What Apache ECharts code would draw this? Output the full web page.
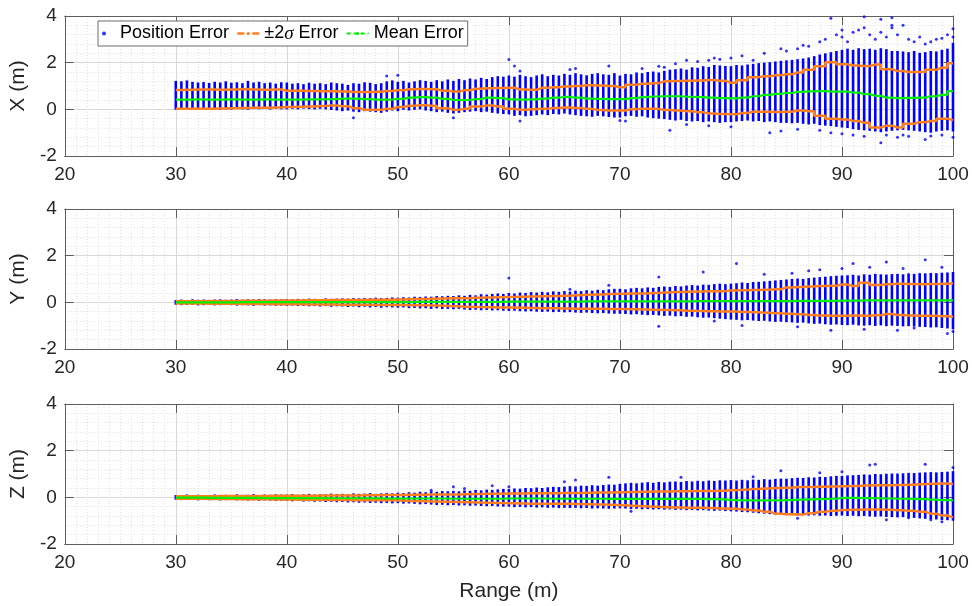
<!DOCTYPE html>
<html><head><meta charset="utf-8">
<script src="https://cdn.jsdelivr.net/npm/echarts@6/dist/echarts.min.js"></script>
<style>html,body{margin:0;padding:0;background:#fff}#c{width:972px;height:606px}</style>
</head><body><div id="c"></div>
<script>
// ---------- x grid ----------
const barStart = 30, barStep = 0.5, barCount = 141;   // data columns every 0.5 m
const lineStart = 30, lineStep = 1, lineCount = 71;   // statistics every 1 m
const xTickMin = 20, xTickMax = 100, xTickStep = 10;
const yTickMin = -2, yTickMax = 4, yTickStep = 2;
const panelNames = ['X (m)', 'Y (m)', 'Z (m)'];
const xLabel = 'Range (m)';
const legendNames = ['Position Error', '±2σ Error', 'Mean Error'];

// ---------- X panel ----------
const xHi = [1.22,1.20,1.24,1.18,1.15,1.17,1.13,1.18,1.15,1.20,
 1.14,1.16,1.12,1.22,1.15,1.18,1.12,1.15,1.10,1.16,
 1.15,1.10,1.12,1.08,1.14,1.10,1.12,1.08,1.15,1.12,
 1.10,1.05,1.12,1.10,1.16,1.14,1.08,1.12,1.20,1.24,
 1.18,1.22,1.15,1.20,1.25,1.22,1.18,1.25,1.20,1.28,
 1.22,1.30,1.25,1.32,1.28,1.35,1.30,1.38,1.42,1.40,
 1.45,1.40,1.48,1.42,1.38,1.45,1.50,1.42,1.48,1.45,
 1.52,1.48,1.55,1.50,1.46,1.52,1.55,1.50,1.48,1.55,
 1.45,1.52,1.50,1.58,1.55,1.60,1.62,1.58,1.65,1.70,
 1.72,1.75,1.70,1.80,1.78,1.85,1.82,1.90,1.88,1.86,
 1.85,1.90,1.88,1.92,1.95,1.98,2.00,2.02,2.05,2.08,
 2.10,2.12,2.15,2.18,2.22,2.28,2.35,2.40,2.45,2.50,
 2.55,2.60,2.55,2.62,2.58,2.60,2.55,2.62,2.58,2.50,
 2.50,2.48,2.45,2.50,2.42,2.45,2.50,2.48,2.55,2.60,
 2.85];
const xLo = [-0.02,0.00,-0.03,0.00,-0.02,0.01,-0.02,0.00,-0.03,0.00,
 -0.02,0.02,0.00,-0.02,0.01,0.00,0.02,-0.01,0.02,0.00,
 0.00,0.02,0.00,0.03,0.01,0.00,0.02,0.00,-0.03,-0.05,
 -0.08,-0.05,-0.10,-0.12,-0.08,-0.10,-0.12,-0.15,-0.10,-0.05,
 -0.08,-0.02,-0.05,-0.02,0.00,-0.05,-0.08,-0.12,-0.10,-0.15,
 -0.18,-0.15,-0.12,-0.10,-0.08,-0.12,-0.10,-0.15,-0.18,-0.20,
 -0.22,-0.28,-0.25,-0.30,-0.28,-0.25,-0.22,-0.25,-0.20,-0.22,
 -0.18,-0.22,-0.25,-0.28,-0.30,-0.32,-0.28,-0.30,-0.33,-0.35,
 -0.35,-0.30,-0.28,-0.32,-0.30,-0.35,-0.38,-0.40,-0.42,-0.45,
 -0.48,-0.45,-0.50,-0.52,-0.50,-0.55,-0.52,-0.55,-0.58,-0.55,
 -0.55,-0.52,-0.50,-0.48,-0.52,-0.50,-0.55,-0.52,-0.55,-0.58,
 -0.58,-0.60,-0.58,-0.62,-0.65,-0.62,-0.68,-0.70,-0.72,-0.75,
 -0.78,-0.80,-0.85,-0.88,-0.90,-0.92,-0.95,-0.98,-0.95,-0.92,
 -0.90,-0.88,-0.90,-0.92,-0.95,-0.98,-1.00,-0.95,-0.92,-0.90,
 -0.95];
const xUpper = [0.83,0.84,0.85,0.85,0.84,0.85,0.86,0.85,0.84,0.85,
 0.80,0.80,0.79,0.78,0.78,0.76,0.74,0.74,0.75,0.79,
 0.82,0.86,0.87,0.86,0.80,0.76,0.82,0.88,0.90,0.91,
 0.93,0.85,0.84,0.92,0.95,0.98,1.00,1.03,1.02,1.00,
 0.95,1.05,1.10,1.12,1.20,1.21,1.22,1.24,1.26,1.22,
 1.14,1.25,1.38,1.42,1.46,1.50,1.58,1.70,1.85,2.02,
 1.93,1.88,1.86,1.92,1.72,1.64,1.60,1.60,1.70,1.78,
 1.98];
const xMean = [0.42,0.42,0.43,0.42,0.42,0.43,0.42,0.42,0.43,0.42,
 0.42,0.42,0.43,0.43,0.44,0.46,0.46,0.44,0.42,0.42,
 0.45,0.50,0.52,0.50,0.45,0.40,0.40,0.44,0.50,0.48,
 0.43,0.42,0.43,0.46,0.50,0.53,0.50,0.46,0.45,0.44,
 0.44,0.48,0.52,0.55,0.56,0.56,0.54,0.52,0.50,0.48,
 0.47,0.50,0.56,0.62,0.66,0.70,0.75,0.77,0.78,0.76,
 0.76,0.72,0.65,0.58,0.50,0.48,0.49,0.50,0.56,0.62,
 0.78];
const xLower = [0.02,0.02,0.03,0.03,0.04,0.05,0.06,0.07,0.07,0.08,
 0.10,0.11,0.12,0.14,0.16,0.13,0.05,-0.02,-0.02,0.02,
 0.10,0.15,0.18,0.15,0.05,-0.02,0.02,0.12,0.16,0.12,
 0.02,-0.02,0.00,0.03,0.06,0.08,0.06,0.02,-0.03,-0.05,
 -0.05,0.00,0.03,0.02,-0.03,-0.05,-0.08,-0.12,-0.18,-0.20,
 -0.21,-0.16,-0.10,-0.10,-0.11,-0.10,-0.05,-0.08,-0.28,-0.40,
 -0.44,-0.50,-0.58,-0.78,-0.70,-0.78,-0.62,-0.55,-0.50,-0.40,
 -0.47];
const xOut = [[46,-0.36],[50,1.46],[49,1.43],[55,-0.36],[60,2.14],[60.5,1.86],[61,1.64],[61,-0.5],[65.5,1.71],[69,1.86],[66,1.75],[70.5,-0.5],[70,-0.48],
 [72,1.75],[73.5,1.85],[74,1.8],[75,1.95],[76,2.1],[77,2.05],[78,2.1],[78.5,2.2],[79,2.15],[80,2.2],[81,2.3],[82,2.1],[83,2.4],[84.5,2.6],[85,2.5],[86,2.6],[86.5,2.75],[87,2.7],[88,2.9],[88.5,3.0],[89,3.9],[89.5,3.2],[90,3.4],[90,3.1],[90.5,2.9],[91,3.3],[91.5,3.4],[92,3.97],[92,3.5],[92.5,3.2],[93,3.0],[93.5,3.86],[93.5,3.3],[94,3.1],[94.5,3.93],[94.5,3.6],[94.5,3.5],[95,3.2],[95.5,3.6],[96,3.0],[96.5,2.9],[97,3.1],[97.5,2.8],[98,2.9],[98.5,3.0],[99,3.05],[99.5,3.2],[100,3.45],[100,3.1],
 [74.5,-0.9],[76,-0.65],[78,-0.7],[80,-0.75],[83.5,-1.0],[84.5,-0.93],[86,-0.85],[88,-0.9],[89,-1.0],[90,-1.05],[91,-1.1],[92,-1.15],[93.5,-1.43],[94,-1.1],[95,-1.2],[95.5,-1.1],[96,-1.15],[97.5,-1.29],[98,-1.14],[99,-1.1],[100,-1.2]];

// ---------- Y panel ----------
const yHi = [0.10,0.12,0.10,0.13,0.11,0.12,0.10,0.12,0.13,0.11,
 0.12,0.14,0.11,0.13,0.12,0.14,0.13,0.12,0.14,0.13,
 0.14,0.13,0.15,0.14,0.16,0.15,0.14,0.17,0.15,0.16,
 0.17,0.16,0.18,0.17,0.19,0.18,0.20,0.18,0.19,0.21,
 0.20,0.22,0.21,0.24,0.23,0.25,0.24,0.27,0.26,0.28,
 0.27,0.30,0.28,0.32,0.30,0.35,0.33,0.36,0.38,0.36,
 0.40,0.38,0.42,0.40,0.44,0.42,0.45,0.43,0.47,0.45,
 0.48,0.46,0.50,0.48,0.52,0.50,0.54,0.52,0.56,0.58,
 0.58,0.56,0.60,0.62,0.60,0.64,0.62,0.66,0.68,0.66,
 0.70,0.68,0.72,0.74,0.72,0.76,0.75,0.78,0.80,0.78,
 0.80,0.82,0.85,0.83,0.87,0.88,0.90,0.92,0.94,0.96,
 0.98,1.00,1.02,1.00,1.04,1.06,1.08,1.10,1.12,1.14,
 1.15,1.16,1.18,1.15,1.20,1.18,1.22,1.20,1.19,1.21,
 1.22,1.20,1.24,1.22,1.25,1.24,1.26,1.25,1.27,1.28,
 1.30];
const yLo = [-0.10,-0.12,-0.11,-0.10,-0.13,-0.12,-0.11,-0.13,-0.12,-0.11,
 -0.12,-0.14,-0.12,-0.13,-0.15,-0.12,-0.14,-0.13,-0.15,-0.14,
 -0.15,-0.14,-0.16,-0.15,-0.17,-0.16,-0.18,-0.16,-0.19,-0.17,
 -0.18,-0.20,-0.18,-0.21,-0.19,-0.22,-0.20,-0.23,-0.21,-0.22,
 -0.23,-0.22,-0.25,-0.24,-0.26,-0.25,-0.28,-0.26,-0.29,-0.28,
 -0.30,-0.28,-0.31,-0.33,-0.32,-0.34,-0.33,-0.35,-0.34,-0.36,
 -0.37,-0.36,-0.38,-0.39,-0.38,-0.40,-0.41,-0.40,-0.42,-0.41,
 -0.43,-0.42,-0.44,-0.45,-0.44,-0.46,-0.47,-0.46,-0.48,-0.49,
 -0.49,-0.50,-0.52,-0.51,-0.53,-0.55,-0.54,-0.56,-0.58,-0.57,
 -0.60,-0.59,-0.62,-0.61,-0.64,-0.66,-0.65,-0.68,-0.70,-0.72,
 -0.74,-0.75,-0.77,-0.76,-0.78,-0.80,-0.79,-0.82,-0.84,-0.83,
 -0.85,-0.86,-0.88,-0.87,-0.90,-0.92,-0.91,-0.94,-0.96,-0.95,
 -0.97,-0.98,-0.96,-0.99,-1.00,-0.98,-1.01,-0.99,-1.02,-1.00,
 -1.01,-1.03,-1.02,-1.04,-1.05,-1.06,-1.08,-1.07,-1.10,-1.12,
 -1.15];
const yUpper = [0.05,0.05,0.05,0.06,0.06,0.06,0.07,0.07,0.07,0.08,
 0.08,0.08,0.09,0.09,0.10,0.10,0.10,0.11,0.11,0.11,
 0.12,0.13,0.14,0.15,0.16,0.17,0.18,0.20,0.21,0.22,
 0.23,0.24,0.25,0.26,0.27,0.28,0.30,0.32,0.34,0.36,
 0.37,0.38,0.38,0.40,0.42,0.44,0.45,0.46,0.47,0.48,
 0.51,0.52,0.53,0.54,0.56,0.64,0.66,0.68,0.70,0.71,
 0.76,0.70,0.84,0.74,0.78,0.80,0.79,0.78,0.79,0.80,
 0.82];
const yMean = [0.00,0.00,0.00,0.00,0.00,0.00,0.01,0.01,0.01,0.01,
 0.01,0.01,0.01,0.01,0.01,0.01,0.01,0.01,0.01,0.01,
 0.01,0.01,0.02,0.02,0.02,0.02,0.02,0.02,0.02,0.02,
 0.03,0.03,0.03,0.03,0.03,0.03,0.03,0.04,0.04,0.04,
 0.04,0.04,0.04,0.04,0.04,0.04,0.04,0.05,0.05,0.05,
 0.05,0.05,0.05,0.05,0.05,0.05,0.06,0.06,0.06,0.06,
 0.07,0.07,0.08,0.08,0.08,0.08,0.08,0.08,0.08,0.08,
 0.08];
const yLower = [-0.05,-0.05,-0.05,-0.06,-0.06,-0.06,-0.07,-0.07,-0.07,-0.08,
 -0.08,-0.08,-0.09,-0.09,-0.09,-0.10,-0.10,-0.10,-0.11,-0.11,
 -0.11,-0.12,-0.13,-0.14,-0.15,-0.17,-0.19,-0.20,-0.21,-0.22,
 -0.22,-0.23,-0.24,-0.25,-0.25,-0.26,-0.27,-0.27,-0.28,-0.29,
 -0.29,-0.30,-0.31,-0.32,-0.33,-0.34,-0.36,-0.37,-0.38,-0.39,
 -0.39,-0.41,-0.43,-0.45,-0.47,-0.49,-0.51,-0.54,-0.56,-0.57,
 -0.58,-0.56,-0.57,-0.55,-0.50,-0.54,-0.56,-0.57,-0.58,-0.60,
 -0.62];
const yOut = [[60,1.04],[69,0.73],[65.5,0.56],[73.5,1.09],[73.5,-1.03],[77.5,1.3],[78.5,-0.8],[80.5,1.66],[81,-0.99],[89,-1.2],[91,1.66],[94,1.73],[97.5,1.83],[99.5,-1.34],
 [83,1.2],[85.5,1.25],[87,1.35],[88,1.4],[90,1.45],[92.5,1.5],[95.5,1.45],[99,1.5],[86,-1.05],[92,-1.15],[95,-1.2],[100,-1.25],[96.5,-1.1]];

// ---------- Z panel ----------
const zHi = [0.10,0.08,0.12,0.09,0.11,0.08,0.10,0.12,0.09,0.11,
 0.10,0.13,0.09,0.11,0.14,0.10,0.12,0.11,0.13,0.12,
 0.12,0.14,0.11,0.13,0.15,0.12,0.14,0.13,0.16,0.14,
 0.15,0.13,0.17,0.15,0.16,0.18,0.15,0.17,0.19,0.17,
 0.20,0.18,0.22,0.20,0.24,0.22,0.26,0.24,0.27,0.26,
 0.28,0.26,0.30,0.28,0.32,0.30,0.33,0.32,0.34,0.36,
 0.36,0.38,0.37,0.40,0.39,0.42,0.40,0.43,0.45,0.44,
 0.46,0.48,0.47,0.50,0.49,0.52,0.50,0.53,0.55,0.54,
 0.58,0.60,0.62,0.60,0.63,0.65,0.62,0.66,0.64,0.67,
 0.68,0.66,0.70,0.68,0.71,0.69,0.72,0.70,0.73,0.72,
 0.74,0.72,0.75,0.73,0.76,0.75,0.78,0.76,0.79,0.80,
 0.80,0.82,0.84,0.83,0.86,0.85,0.88,0.87,0.90,0.92,
 0.92,0.94,0.95,0.96,0.98,0.97,1.00,0.99,1.01,1.02,
 1.02,1.03,1.05,1.04,1.06,1.07,1.08,1.07,1.09,1.10,
 1.12];
const zLo = [-0.10,-0.12,-0.09,-0.11,-0.13,-0.10,-0.12,-0.11,-0.13,-0.12,
 -0.11,-0.13,-0.12,-0.14,-0.12,-0.15,-0.13,-0.14,-0.16,-0.15,
 -0.15,-0.17,-0.16,-0.18,-0.17,-0.19,-0.18,-0.20,-0.19,-0.21,
 -0.20,-0.22,-0.21,-0.23,-0.22,-0.24,-0.23,-0.25,-0.24,-0.26,
 -0.25,-0.27,-0.26,-0.28,-0.30,-0.29,-0.31,-0.33,-0.32,-0.34,
 -0.33,-0.35,-0.34,-0.36,-0.35,-0.37,-0.38,-0.37,-0.39,-0.40,
 -0.40,-0.42,-0.41,-0.43,-0.42,-0.44,-0.43,-0.45,-0.44,-0.46,
 -0.45,-0.46,-0.45,-0.47,-0.46,-0.48,-0.47,-0.48,-0.49,-0.48,
 -0.47,-0.48,-0.50,-0.49,-0.51,-0.50,-0.52,-0.51,-0.53,-0.52,
 -0.54,-0.53,-0.55,-0.54,-0.56,-0.55,-0.57,-0.58,-0.57,-0.59,
 -0.60,-0.61,-0.63,-0.64,-0.66,-0.68,-0.70,-0.72,-0.74,-0.75,
 -0.76,-0.75,-0.77,-0.76,-0.78,-0.77,-0.79,-0.78,-0.80,-0.79,
 -0.78,-0.80,-0.79,-0.81,-0.80,-0.82,-0.83,-0.82,-0.84,-0.85,
 -0.86,-0.85,-0.87,-0.88,-0.90,-0.92,-0.94,-0.95,-0.97,-0.98,
 -1.00];
const zUpper = [0.05,0.05,0.05,0.05,0.06,0.06,0.06,0.06,0.06,0.07,
 0.07,0.07,0.07,0.08,0.08,0.08,0.08,0.09,0.09,0.10,
 0.10,0.11,0.11,0.12,0.12,0.12,0.13,0.14,0.15,0.15,
 0.16,0.16,0.17,0.18,0.18,0.19,0.19,0.20,0.21,0.21,
 0.22,0.23,0.24,0.25,0.25,0.26,0.26,0.27,0.27,0.28,
 0.30,0.33,0.36,0.38,0.40,0.41,0.44,0.44,0.45,0.46,
 0.48,0.49,0.51,0.52,0.52,0.53,0.54,0.56,0.58,0.59,
 0.57];
const zMean = [-0.01,-0.01,-0.01,-0.02,-0.02,-0.02,-0.02,-0.02,-0.03,-0.03,
 -0.03,-0.03,-0.03,-0.03,-0.04,-0.04,-0.04,-0.04,-0.04,-0.05,
 -0.05,-0.05,-0.05,-0.05,-0.05,-0.06,-0.06,-0.06,-0.06,-0.06,
 -0.05,-0.05,-0.05,-0.05,-0.06,-0.06,-0.06,-0.06,-0.06,-0.07,
 -0.07,-0.07,-0.07,-0.07,-0.07,-0.07,-0.07,-0.07,-0.08,-0.09,
 -0.12,-0.13,-0.13,-0.13,-0.13,-0.12,-0.10,-0.09,-0.08,-0.06,
 -0.02,-0.02,-0.03,-0.04,-0.05,-0.06,-0.07,-0.08,-0.10,-0.12,
 -0.13];
const zLower = [-0.06,-0.06,-0.06,-0.07,-0.07,-0.07,-0.08,-0.08,-0.08,-0.09,
 -0.09,-0.10,-0.10,-0.10,-0.11,-0.11,-0.12,-0.12,-0.13,-0.13,
 -0.14,-0.16,-0.17,-0.18,-0.19,-0.20,-0.21,-0.22,-0.23,-0.24,
 -0.25,-0.26,-0.27,-0.27,-0.28,-0.28,-0.29,-0.30,-0.31,-0.32,
 -0.34,-0.36,-0.38,-0.40,-0.42,-0.44,-0.45,-0.45,-0.46,-0.48,
 -0.49,-0.52,-0.56,-0.62,-0.70,-0.72,-0.74,-0.68,-0.62,-0.58,
 -0.54,-0.53,-0.52,-0.52,-0.53,-0.55,-0.58,-0.62,-0.70,-0.78,
 -0.86];
const zOut = [[53,0.3],[56,0.38],[58.5,0.5],[60,0.45],[55,0.45],[65,0.67],[66,0.74],[69,0.86],[71,-0.6],[75.5,0.86],[82,0.88],[84.5,1.14],[92.5,1.39],[93,1.42],[97.5,1.42],[100,1.28],[94,-0.96],[96,-0.88],[98,-0.96],[88,1.05],[90,1.1],[86,-0.9],[99,-1.05]];

// ---------- build ----------
const FONT = 'Liberation Sans, Arial, Helvetica, sans-serif';
const BLUE = '#0000ff', ORANGE = '#ff7f1e', GREEN = '#00f000';
const AX = '#5e5e5e', TXT = '#262626';
const panels = [
  {hi:xHi, lo:xLo, up:xUpper, mean:xMean, low:xLower, out:xOut},
  {hi:yHi, lo:yLo, up:yUpper, mean:yMean, low:yLower, out:yOut},
  {hi:zHi, lo:zLo, up:zUpper, mean:zMean, low:zLower, out:zOut}
];
const gridTops = [16, 209, 404];
const grids = [], xAxes = [], yAxes = [], series = [];
const tickStyle = {show:true, inside:true, length:9, lineStyle:{color:AX, width:1}};
const lineX = (arr) => arr.map((v,i) => [lineStart + i*lineStep, v]);

panels.forEach((p, k) => {
  grids.push({left:61, width:892, top:gridTops[k], height:140, show:false});
  const xb = xAxes.length;
  xAxes.push({gridIndex:k, type:'value', position:'bottom', min:xTickMin, max:xTickMax, interval:xTickStep,
    axisLine:{show:true, onZero:false, lineStyle:{color:AX, width:1}},
    axisTick:tickStyle,
    axisLabel:{fontSize:19, color:TXT, margin:9, fontFamily:FONT},
    splitLine:{show:true, lineStyle:{color:'#d9d9d9', width:1}},
    minorTick:{show:false, splitNumber:10},
    minorSplitLine:{show:true, lineStyle:{color:'#e2e2e2', width:1, type:[1,2]}},
    name: k === 2 ? xLabel : '', nameLocation:'middle', nameGap:37,
    nameTextStyle:{fontSize:21, color:TXT, fontFamily:FONT}});
  xAxes.push({gridIndex:k, type:'value', position:'top', min:xTickMin, max:xTickMax, interval:xTickStep,
    axisLine:{show:true, onZero:false, lineStyle:{color:AX, width:1}},
    axisTick:tickStyle, axisLabel:{show:false}, splitLine:{show:false}});
  const yb = yAxes.length;
  yAxes.push({gridIndex:k, type:'value', position:'left', min:yTickMin, max:yTickMax, interval:yTickStep,
    axisLine:{show:true, onZero:false, lineStyle:{color:AX, width:1}},
    axisTick:tickStyle,
    axisLabel:{fontSize:19, color:TXT, margin:8, fontFamily:FONT},
    splitLine:{show:true, lineStyle:{color:'#d9d9d9', width:1}},
    minorTick:{show:false, splitNumber:5},
    minorSplitLine:{show:true, lineStyle:{color:'#e2e2e2', width:1, type:[1,2]}},
    name:panelNames[k], nameLocation:'middle', nameGap:27, nameRotate:90,
    nameTextStyle:{fontSize:21, color:TXT, fontFamily:FONT}});
  yAxes.push({gridIndex:k, type:'value', position:'right', min:yTickMin, max:yTickMax, interval:yTickStep,
    axisLine:{show:true, onZero:false, lineStyle:{color:AX, width:1}},
    axisTick:tickStyle, axisLabel:{show:false}, splitLine:{show:false}});

  series.push({name:legendNames[0], type:'scatter', xAxisIndex:xb, yAxisIndex:yb,
    symbol:'circle', symbolSize:3, itemStyle:{color:BLUE}, data:p.out, silent:true, z:2});
  const cols = p.hi.map((h,i) => [barStart + i*barStep, p.lo[i], h]);
  series.push({name:legendNames[0], type:'custom', xAxisIndex:xb, yAxisIndex:yb, data:cols,
    encode:{x:0, y:[1,2]}, silent:true, z:2,
    renderItem:(params, api) => {
      const x = api.value(0);
      const a = api.coord([x, api.value(2)]);
      const b = api.coord([x, api.value(1)]);
      return {type:'rect', shape:{x:a[0]-1.3, y:a[1], width:2.6, height:b[1]-a[1]}, style:{fill:BLUE}};
    }});
  [p.up, p.low].forEach(arr => series.push({name:legendNames[1], type:'line', xAxisIndex:xb, yAxisIndex:yb,
    data:lineX(arr), step:'middle', symbol:'none', silent:true, z:3,
    lineStyle:{color:ORANGE, width:2.5}, itemStyle:{color:ORANGE}}));
  series.push({name:legendNames[2], type:'line', xAxisIndex:xb, yAxisIndex:yb,
    data:lineX(p.mean), step:'middle', symbol:'none', silent:true, z:4,
    lineStyle:{color:GREEN, width:2.2}, itemStyle:{color:GREEN}});
});

const chart = echarts.init(document.getElementById('c'), null, {renderer:'canvas'});
chart.setOption({
  animation:false, backgroundColor:'#ffffff',
  grid:grids, xAxis:xAxes, yAxis:yAxes, series:series,
  legend:{left:98, top:21, orient:'horizontal', padding:[3,4,3,4], itemGap:7, itemWidth:22, itemHeight:4,
    backgroundColor:'#ffffff', borderColor:'#6b6b6b', borderWidth:1, z:10, selectedMode:false,
    textStyle:{fontSize:18, color:'#000', fontFamily:FONT,
      rich:{s:{fontSize:19, fontStyle:'italic', fontFamily:'Liberation Serif, DejaVu Serif, serif', color:'#000'}}},
    formatter:(name) => name === legendNames[1] ? '±2{s|σ} Error' : name,
    data:[
      {name:legendNames[0], icon:'circle', itemStyle:{color:BLUE}},
      {name:legendNames[1], lineStyle:{color:ORANGE, width:2.5, type:[7,8]}},
      {name:legendNames[2], lineStyle:{color:GREEN, width:2.2, type:[4,3]}}
    ]}
});
</script></body></html>
